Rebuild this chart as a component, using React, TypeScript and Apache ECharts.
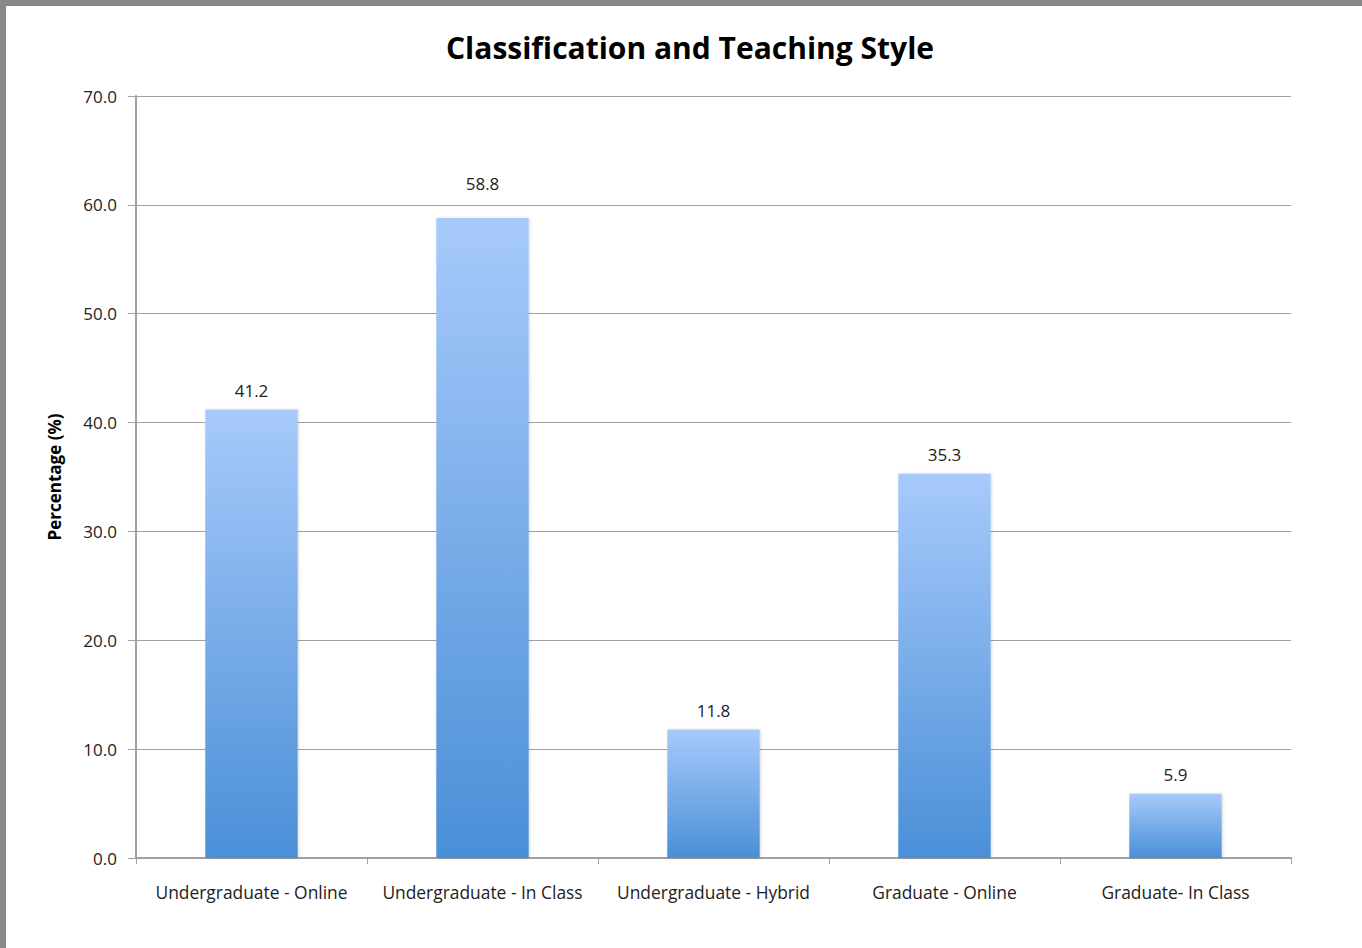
import React, { useEffect, useRef } from "react";
import * as echarts from "echarts";

const categories = [
  "Undergraduate - Online",
  "Undergraduate - In Class",
  "Undergraduate - Hybrid",
  "Graduate - Online",
  "Graduate- In Class",
];
const percentages = [41.2, 58.8, 11.8, 35.3, 5.9];
const yTicks = { min: 0, max: 70, interval: 10 };

const FONT = "'Open Sans', 'Noto Sans', sans-serif";

export default function App() {
  const ref = useRef<HTMLDivElement>(null);
  useEffect(() => {
    if (!ref.current) return;
    const chart = echarts.init(ref.current, undefined, { renderer: "svg" });
    const barData = percentages.map((v, i) =>
      i === 1 ? { value: v, label: { distance: 26 } } : { value: v }
    );
    chart.setOption({
      animation: false,
      backgroundColor: "#ffffff",
      title: {
        text: "Classification and Teaching Style",
        left: 685,
        top: 27,
        textAlign: "center",
        textStyle: { fontFamily: FONT, fontSize: 30, fontWeight: "bold", color: "#000" },
      },
      graphic: [
        { type: "rect", shape: { x: 0, y: 0, width: 1362, height: 6 }, style: { fill: "#888888" } },
        { type: "rect", shape: { x: 0, y: 0, width: 6, height: 948 }, style: { fill: "#888888" } },
      ],
      grid: { left: 136, right: 71, top: 96, bottom: 90, containLabel: false },
      xAxis: {
        type: "category",
        data: categories,
        axisLine: { show: true, lineStyle: { color: "#a0a0a0", width: 2 } },
        axisTick: { show: true, alignWithLabel: false, length: 6, lineStyle: { color: "#a0a0a0" } },
        axisLabel: { interval: 0, fontFamily: FONT, fontSize: 17.4, color: "#222", margin: 25 },
      },
      yAxis: {
        type: "value",
        min: yTicks.min,
        max: yTicks.max,
        interval: yTicks.interval,
        name: "Percentage (%)",
        nameLocation: "middle",
        nameGap: 73,
        nameTextStyle: { fontFamily: FONT, fontSize: 17, fontWeight: "bold", color: "#000" },
        axisLine: { show: true, lineStyle: { color: "#a0a0a0", width: 2 } },
        axisTick: { show: true, inside: false, length: 8, lineStyle: { color: "#a0a0a0" } },
        axisLabel: {
          fontFamily: FONT,
          fontSize: 17,
          color: "#222",
          margin: 19,
          formatter: (v: number) => v.toFixed(1),
        },
        splitLine: { show: true, lineStyle: { color: "#a0a0a0", width: 1 } },
      },
      series: [
        {
          type: "bar",
          data: barData,
          barWidth: "40%",
          itemStyle: {
            color: new echarts.graphic.LinearGradient(0, 0, 0, 1, [
              { offset: 0, color: "#a7cafb" },
              { offset: 1, color: "#4a8fd7" },
            ]),
            shadowColor: "rgba(0,0,0,0.15)",
            shadowBlur: 3,
            shadowOffsetX: 1,
          },
          label: {
            show: true,
            position: "top",
            distance: 11,
            fontFamily: FONT,
            fontSize: 17,
            color: "#222",
            formatter: (p: any) => Number(p.value).toFixed(1),
          },
        },
      ],
    });
    return () => chart.dispose();
  }, []);
  return (
    <div
      ref={ref}
      style={{ position: "fixed", left: 0, top: 0, width: 1362, height: 948 }}
    />
  );
}
